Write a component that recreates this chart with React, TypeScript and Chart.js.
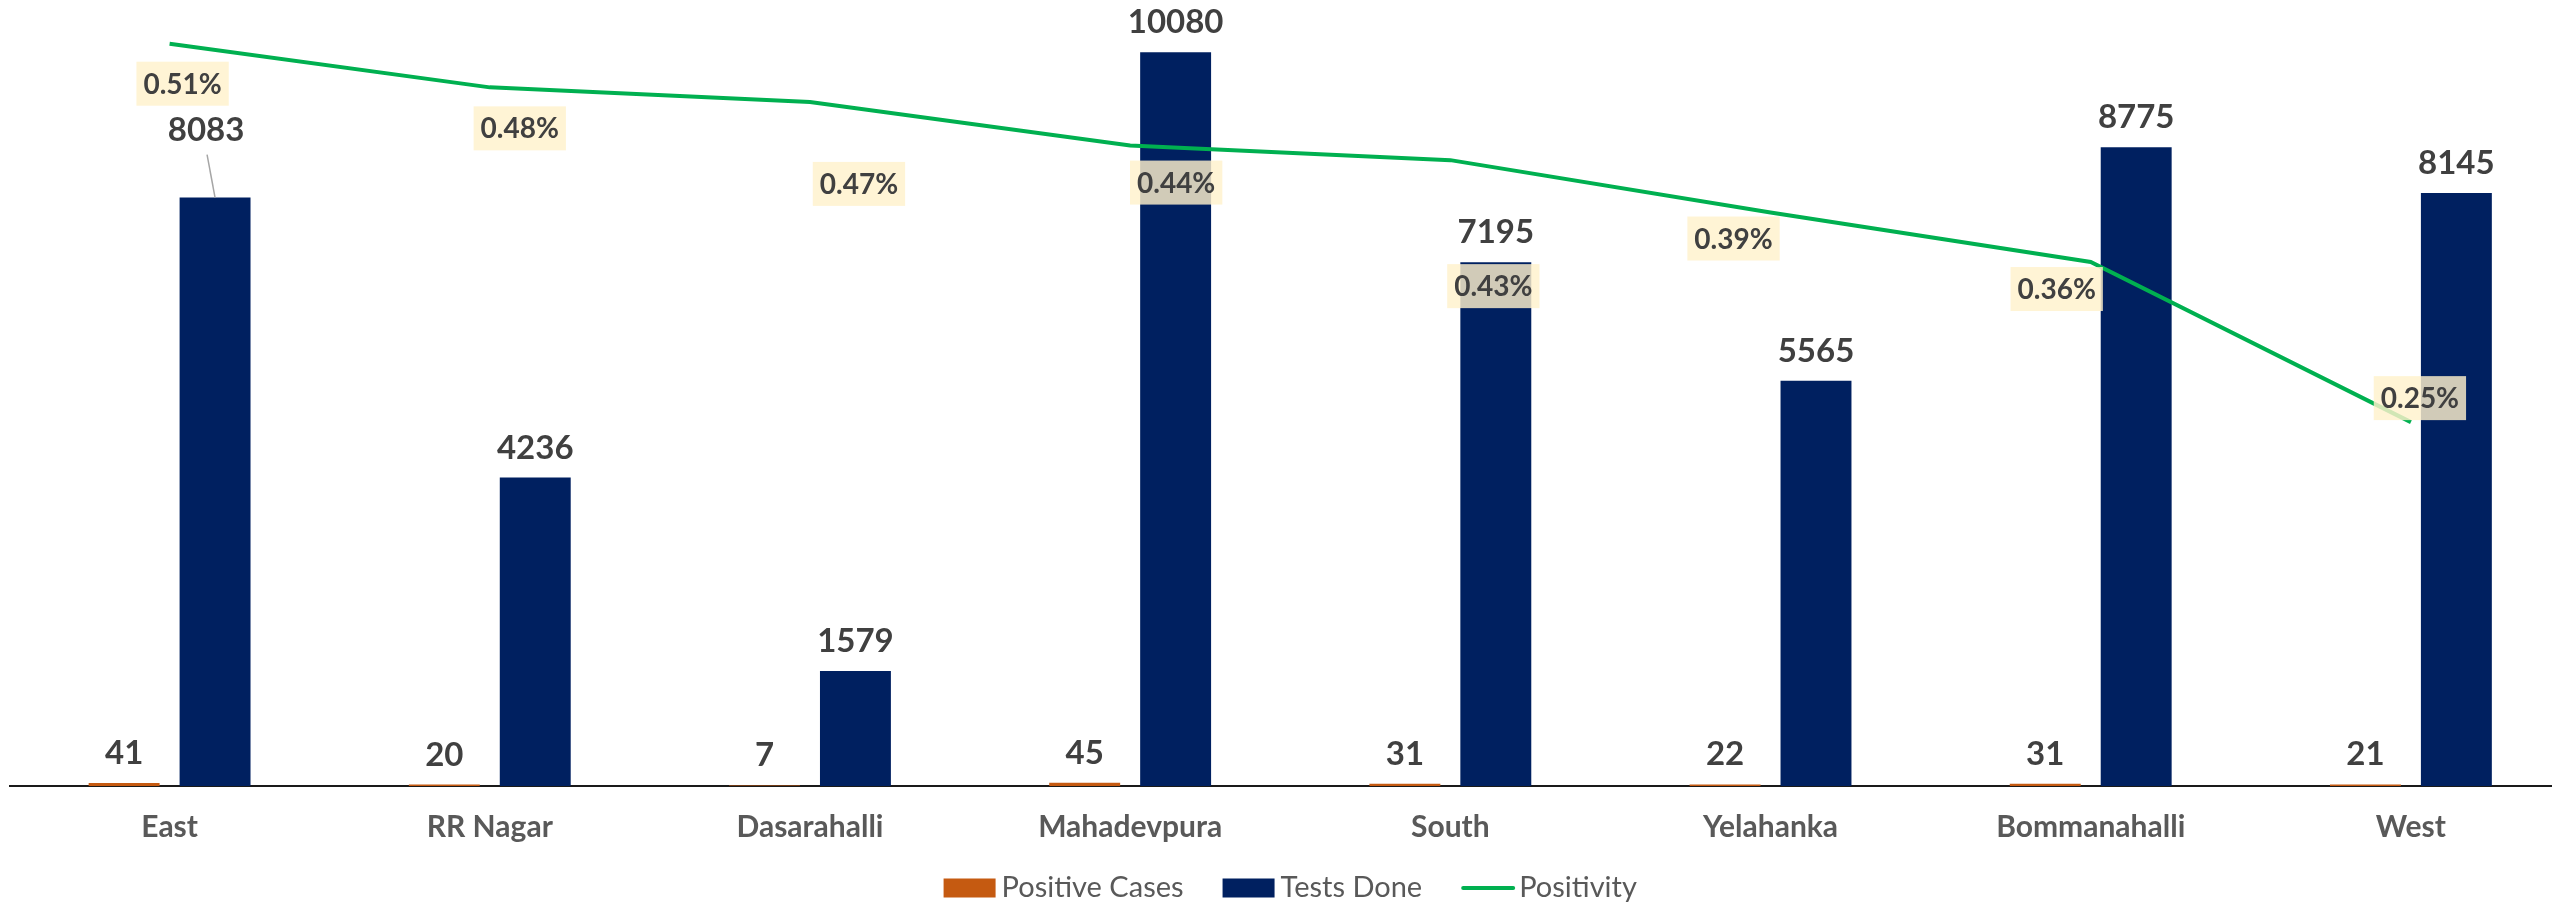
import React, { useEffect, useRef } from 'react';
import { Chart, registerables } from 'chart.js';

Chart.register(...registerables);

const categories = ['East', 'RR Nagar', 'Dasarahalli', 'Mahadevpura', 'South', 'Yelahanka', 'Bommanahalli', 'West'];
const positiveCases = [41, 20, 7, 45, 31, 22, 31, 21];
const testsDone = [8083, 4236, 1579, 10080, 7195, 5565, 8775, 8145];
const positivity = [0.51, 0.48, 0.47, 0.44, 0.43, 0.394, 0.36, 0.25];

// label placement (style only): box-centre offset from line point
const pctLabelOffsets: [number, number][] = [
  [13, 40], [30, 41], [49, 82], [46, 37], [43, 126], [-37, 26], [-34, 27], [9, -24],
];
// tests-done label nudges (style only)
const testsLabelNudges: [number, number][] = [
  [-9, -38], [0, 0], [0, 0], [0, 0], [0, 0], [0, 0], [0, 0], [0, 0],
];

const FONT = 'Lato, "Open Sans", sans-serif';
const ORANGE = '#C55A11';
const NAVY = '#002060';
const GREEN = '#00B050';
const LABEL_COLOR = '#404040';
const AXIS_TEXT = '#595959';

const valueLabelPlugin = {
  id: 'valueLabels',
  afterDatasetsDraw(chart: any) {
    const ctx = chart.ctx as CanvasRenderingContext2D;
    ctx.save();
    // bar value labels
    [0, 1].forEach((di) => {
      const meta = chart.getDatasetMeta(di);
      const vals = chart.data.datasets[di].data as number[];
      meta.data.forEach((el: any, i: number) => {
        const nudge = di === 1 ? testsLabelNudges[i] : [0, 0];
        const x = el.x + nudge[0];
        const y = el.y - 19 + nudge[1];
        ctx.font = `bold 33px ${FONT}`;
        ctx.fillStyle = LABEL_COLOR;
        ctx.textAlign = 'center';
        ctx.textBaseline = 'alphabetic';
        ctx.fillText(String(vals[i]), x, y);
        if (nudge[0] !== 0 || nudge[1] !== 0) {
          ctx.beginPath();
          ctx.strokeStyle = '#A6A6A6';
          ctx.lineWidth = 1.5;
          ctx.moveTo(x + 1, y + 14);
          ctx.lineTo(el.x, el.y);
          ctx.stroke();
        }
      });
    });
    // positivity labels
    const lmeta = chart.getDatasetMeta(2);
    const pvals = chart.data.datasets[2].data as number[];
    lmeta.data.forEach((el: any, i: number) => {
      const [dx, dy] = pctLabelOffsets[i];
      const cx = el.x + dx;
      const cy = el.y + dy;
      const text = `${pvals[i].toFixed(2)}%`;
      ctx.font = `bold 28px ${FONT}`;
      const w = Math.max(90, ctx.measureText(text).width + 14);
      const h = 44;
      ctx.fillStyle = 'rgba(255, 242, 204, 0.82)';
      ctx.fillRect(cx - w / 2, cy - h / 2, w, h);
      ctx.fillStyle = LABEL_COLOR;
      ctx.textAlign = 'center';
      ctx.textBaseline = 'middle';
      ctx.fillText(text, cx, cy + 1);
    });
    ctx.restore();
  },
};

const legendPlugin = {
  id: 'customLegend',
  afterDraw(chart: any) {
    const ctx = chart.ctx as CanvasRenderingContext2D;
    const ds = chart.data.datasets;
    ctx.save();
    ctx.font = `29px ${FONT}`;
    const markerW = 52;
    const gapText = 6;
    const gapItem = 39;
    const widths = ds.map((d: any) => markerW + gapText + ctx.measureText(d.label).width);
    const total = widths.reduce((a: number, b: number) => a + b, 0) + gapItem * (ds.length - 1);
    const center = (chart.chartArea.left + chart.chartArea.right) / 2;
    let x = center - total / 2;
    const y = 888;
    ds.forEach((d: any, i: number) => {
      if (d.type === 'line') {
        ctx.beginPath();
        ctx.strokeStyle = d.borderColor;
        ctx.lineWidth = 4;
        ctx.lineCap = 'round';
        ctx.moveTo(x + 2, y);
        ctx.lineTo(x + markerW, y);
        ctx.stroke();
      } else {
        ctx.fillStyle = d.backgroundColor;
        ctx.fillRect(x, y - 9.5, markerW, 19);
      }
      ctx.fillStyle = AXIS_TEXT;
      ctx.textAlign = 'left';
      ctx.textBaseline = 'middle';
      ctx.fillText(d.label, x + markerW + gapText, y);
      x += widths[i] + gapItem;
    });
    ctx.restore();
  },
};

const PX_PER_TEST = 0.0728;
const PX_PER_PCT = 1455.5;
const AREA_TOP = 6;
const AREA_BOTTOM = 786;
const CANVAS_W = 2580;
const CANVAS_H = 902;
const X_AXIS_H = 60;

export default function App() {
  const canvasRef = useRef<HTMLCanvasElement | null>(null);

  useEffect(() => {
    let chart: Chart | null = null;
    let cancelled = false;
    const build = () => {
      if (cancelled || !canvasRef.current) return;
      const areaH = AREA_BOTTOM - AREA_TOP;
      chart = new Chart(canvasRef.current, {
        type: 'bar',
        data: {
          labels: categories,
          datasets: [
            {
              type: 'bar',
              label: 'Positive Cases',
              data: positiveCases,
              backgroundColor: ORANGE,
              yAxisID: 'y',
              order: 2,
              categoryPercentage: 0.568,
              barPercentage: 0.78,
            },
            {
              type: 'bar',
              label: 'Tests Done',
              data: testsDone,
              backgroundColor: NAVY,
              yAxisID: 'y',
              order: 2,
              categoryPercentage: 0.568,
              barPercentage: 0.78,
            },
            {
              type: 'line',
              label: 'Positivity',
              data: positivity,
              borderColor: GREEN,
              backgroundColor: GREEN,
              borderWidth: 4,
              pointRadius: 0,
              tension: 0,
              yAxisID: 'y1',
              order: 1,
            },
          ] as any,
        },
        options: {
          animation: false,
          responsive: false,
          maintainAspectRatio: false,
          layout: {
            padding: { left: 9.5, right: CANVAS_W - 2571, top: AREA_TOP, bottom: CANVAS_H - AREA_BOTTOM - X_AXIS_H },
          },
          plugins: {
            legend: { display: false },
            tooltip: { enabled: false },
          },
          scales: {
            x: {
              offset: true,
              grid: { display: false, drawTicks: false },
              border: { display: true, color: '#1a1a1a', width: 2 },
              ticks: {
                color: AXIS_TEXT,
                font: { family: FONT, size: 30, weight: 'bold' },
                padding: 23,
                maxRotation: 0,
                autoSkip: false,
              },
              afterFit: (scale: any) => {
                scale.height = X_AXIS_H;
              },
            },
            y: {
              display: false,
              min: 0,
              max: areaH / PX_PER_TEST,
            },
            y1: {
              display: false,
              position: 'right',
              min: 0,
              max: areaH / PX_PER_PCT,
            },
          },
        } as any,
        plugins: [valueLabelPlugin, legendPlugin],
      });
    };
    const fontsReady = (document as any).fonts
      ? Promise.all([
          (document as any).fonts.load(`bold 32px Lato`),
          (document as any).fonts.load(`27px Lato`),
        ]).catch(() => null)
      : Promise.resolve(null);
    fontsReady.then(build);
    return () => {
      cancelled = true;
      if (chart) chart.destroy();
    };
  }, []);

  return (
    <div
      style={{
        position: 'fixed',
        left: 0,
        top: 0,
        width: '100vw',
        height: '100vh',
        overflow: 'hidden',
        background: '#ffffff',
      }}
    >
      <canvas ref={canvasRef} width={CANVAS_W} height={CANVAS_H} style={{ display: 'block' }} />
    </div>
  );
}
